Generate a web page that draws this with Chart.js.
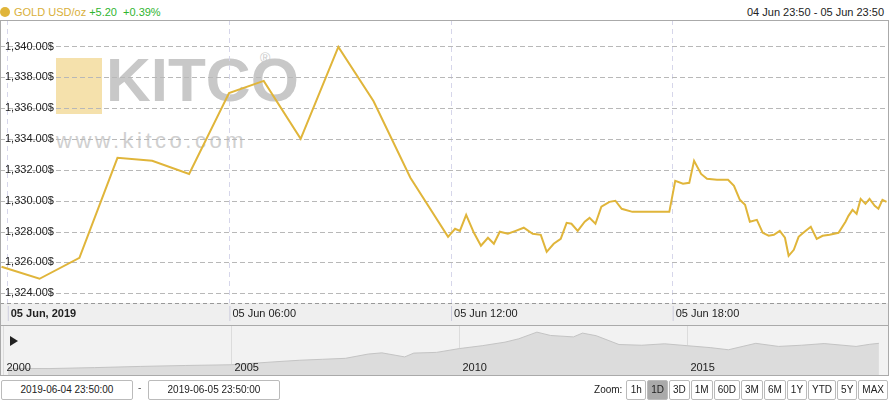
<!DOCTYPE html>
<html><head><meta charset="utf-8">
<script src="https://cdn.jsdelivr.net/npm/chart.js@4.4.1/dist/chart.umd.min.js"></script>
<style>
body{margin:0;width:890px;height:400px;background:#fff;font-family:"Liberation Sans",Arial,sans-serif;position:relative;overflow:hidden}
#hdr{position:absolute;left:0;top:6px;font-size:11px;color:#d9b03a}
#hdr .dot{display:inline-block;width:10px;height:10px;border-radius:5px;background:#e0b53a;vertical-align:-1px;margin-right:4px}
#hdr .g{color:#2fb52f;margin-left:3px}
#rng{position:absolute;right:6px;top:6px;font-size:11px;color:#222}
#c1{position:absolute;left:0;top:20px}
#c2{position:absolute;left:0;top:325px}
#frame{position:absolute;left:0;top:20px;width:887px;height:354px;border:1px solid #aaa;pointer-events:none}
.inp{position:absolute;top:380px;height:18px;width:130px;border:1px solid #bbb;font-size:10px;text-align:center;line-height:18px;color:#222;border-radius:2px}
#btns{position:absolute;right:2px;top:380px;font-size:10px;color:#222}
#btns span{display:inline-block;border:1px solid #bbb;border-radius:2px;padding:0 3px;height:18px;line-height:18px;margin-left:1px;min-width:12px;text-align:center}
#btns span.sel{background:#aaa}
#logo{position:absolute;left:56px;top:52px;pointer-events:none}
</style></head><body>
<div id="hdr"><span class="dot"></span>GOLD USD/oz<span class="g">+5.20</span><span class="g">&nbsp;+0.39%</span></div>
<div id="rng">04 Jun 23:50 - 05 Jun 23:50</div>
<div id="logo">
<div style="position:absolute;left:0;top:6px;width:46px;height:56px;background:#f3dc9e;opacity:.85"></div>
<div style="position:absolute;left:50px;top:-8px;font-size:62px;font-weight:bold;color:#c8c8c8;letter-spacing:0px;font-family:'Liberation Sans'">KITCO</div>
<div style="position:absolute;left:204px;top:-2px;font-size:14px;color:#ccc">®</div>
<div style="position:absolute;left:0;top:76px;font-size:22px;color:#d0d0d0;letter-spacing:3.5px">www.kitco.com</div>
</div>
<canvas id="c1" width="888" height="305"></canvas>
<canvas id="c2" width="888" height="50"></canvas>
<div id="frame"></div>
<div class="inp" style="left:1px">2019-06-04 23:50:00</div>
<div style="position:absolute;left:138px;top:382px;font-size:10px;color:#555">-</div>
<div class="inp" style="left:148px">2019-06-05 23:50:00</div>
<div id="btns">Zoom: <span>1h</span><span class="sel">1D</span><span>3D</span><span>1M</span><span>60D</span><span>3M</span><span>6M</span><span>1Y</span><span>YTD</span><span>5Y</span><span>MAX</span></div>
<script>
const hours=[-0.17,0.86,1.94,2.97,3.91,4.91,5.99,6.93,7.93,8.95,9.90,10.90,11.92,12.11,12.24,12.41,12.62,12.81,13.00,13.16,13.32,13.54,13.75,13.97,14.21,14.43,14.59,14.78,14.97,15.13,15.26,15.43,15.62,15.75,15.91,16.07,16.29,16.45,16.62,16.91,17.91,18.07,18.28,18.45,18.58,18.77,18.93,19.20,19.50,19.66,19.82,19.96,20.09,20.28,20.44,20.60,20.74,20.90,21.04,21.14,21.28,21.41,21.57,21.74,21.90,22.06,22.25,22.49,22.68,22.76,22.87,22.98,23.09,23.22,23.33,23.47,23.57,23.68,23.79];
const prices=[1325.75,1324.97,1326.33,1332.81,1332.62,1331.77,1337.02,1337.80,1334.04,1340.00,1336.50,1331.52,1327.69,1328.21,1328.08,1329.12,1327.95,1327.11,1327.63,1327.24,1328.02,1327.89,1328.08,1328.28,1327.89,1327.82,1326.72,1327.24,1327.56,1328.60,1328.54,1328.08,1328.67,1328.92,1328.54,1329.64,1329.96,1330.03,1329.51,1329.31,1329.31,1331.32,1331.13,1331.19,1332.62,1331.77,1331.45,1331.39,1331.39,1331.00,1330.09,1329.77,1328.67,1328.79,1327.95,1327.76,1327.82,1328.08,1327.63,1326.46,1326.85,1327.69,1328.02,1328.34,1327.56,1327.76,1327.82,1327.95,1328.67,1329.05,1329.44,1329.18,1330.15,1329.83,1330.15,1329.70,1329.51,1330.09,1329.96];
const yTicks=[1324,1326,1328,1330,1332,1334,1336,1338,1340];
const xTicks=[0,6,12,18];
const xLabels=['05 Jun, 2019','05 Jun 06:00','05 Jun 12:00','05 Jun 18:00'];
const navYears=[2000,2001,2002,2003,2004,2005,2006,2006.5,2007,2007.5,2008,2008.3,2008.8,2009,2009.5,2010,2010.5,2011,2011.3,2011.7,2012,2012.5,2012.7,2013,2013.5,2014,2014.5,2015,2015.5,2015.9,2016.5,2017,2017.5,2018,2018.7,2019,2019.2];
const navPrices=[280,270,310,360,400,430,560,620,660,700,880,930,760,920,950,1110,1230,1380,1520,1800,1660,1600,1760,1650,1280,1250,1310,1230,1150,1060,1330,1200,1250,1320,1200,1290,1330];
const navLabels=[2000,2005,2010,2015];

const overlay={id:'ov',
 beforeDraw(c){const {ctx,chartArea:a}=c;ctx.save();ctx.fillStyle='#efefef';ctx.fillRect(0,a.bottom,c.width,c.height-a.bottom);ctx.restore();},
 afterDraw(c){const {ctx,chartArea:a,scales:{x,y}}=c;ctx.save();ctx.font='11px "Liberation Sans"';ctx.fillStyle='#222';ctx.textBaseline='bottom';
 yTicks.forEach(v=>{ctx.fillText(v.toLocaleString('en-US',{minimumFractionDigits:2})+'$',5,y.getPixelForValue(v)+5);});
 ctx.textBaseline='middle';
 xTicks.forEach((t,i)=>{const px=x.getPixelForValue(t);ctx.strokeStyle='#ccd';ctx.beginPath();ctx.moveTo(px+0.5,a.bottom+3);ctx.lineTo(px+0.5,a.bottom+18);ctx.stroke();ctx.font=(i==0?'bold ':'')+'11px "Liberation Sans"';ctx.fillText(xLabels[i],px+3,a.bottom+11);});
 ctx.strokeStyle='#999';ctx.setLineDash([4,3]);ctx.beginPath();ctx.moveTo(0,a.bottom+0.5);ctx.lineTo(c.width,a.bottom+0.5);ctx.stroke();
 ctx.restore();}};
new Chart(document.getElementById('c1'),{type:'line',
 data:{datasets:[{data:hours.map((h,i)=>({x:h,y:prices[i]})),borderColor:'#e0b53a',borderWidth:2,pointRadius:0,tension:0}]},
 options:{responsive:false,animation:false,layout:{padding:{bottom:22}},plugins:{legend:{display:false},tooltip:{enabled:false}},
 scales:{x:{type:'linear',min:-0.21,max:23.83,afterBuildTicks:s=>{s.ticks=xTicks.map(v=>({value:v}))},ticks:{display:false},grid:{color:'#d6d6ea',drawTicks:false},border:{display:false,dash:[5,4]}},
 y:{min:1323.4,max:1341.75,afterBuildTicks:s=>{s.ticks=yTicks.map(v=>({value:v}))},ticks:{display:false},grid:{color:'#b8b8b8',drawTicks:false},border:{display:false,dash:[5,3]}}}},
 plugins:[overlay]});

const navOv={id:'nv',beforeDraw(c){const {ctx}=c;ctx.save();ctx.fillStyle='#f2f2f2';ctx.fillRect(0,0,c.width,c.height);ctx.restore();},
 afterDraw(c){const {ctx,scales:{x}}=c;ctx.save();ctx.font='11px "Liberation Sans"';ctx.fillStyle='#222';ctx.textBaseline='alphabetic';
 navLabels.forEach(t=>{ctx.fillText(String(t),x.getPixelForValue(t)+3,c.height-4);});
 ctx.beginPath();ctx.moveTo(10,11);ctx.lineTo(18,16);ctx.lineTo(10,21);ctx.closePath();ctx.fill();
 ctx.strokeStyle='#aaa';ctx.beginPath();ctx.moveTo(0,0.5);ctx.lineTo(c.width,0.5);ctx.stroke();ctx.restore();}};
new Chart(document.getElementById('c2'),{type:'line',
 data:{datasets:[{data:navYears.map((t,i)=>({x:t,y:navPrices[i]})),borderColor:'#c4c4c4',borderWidth:1,backgroundColor:'#dcdcdc',fill:'origin',pointRadius:0}]},
 options:{responsive:false,animation:false,layout:{padding:0},plugins:{legend:{display:false},tooltip:{enabled:false}},
 scales:{x:{type:'linear',min:2000.1,max:2019.4,afterBuildTicks:s=>{s.ticks=navLabels.map(v=>({value:v}))},ticks:{display:false},grid:{color:'#dcdcdc',drawTicks:false},border:{display:false}},
 y:{min:0,max:2100,ticks:{display:false},grid:{display:false},border:{display:false}}}},
 plugins:[navOv]});
</script></body></html>
